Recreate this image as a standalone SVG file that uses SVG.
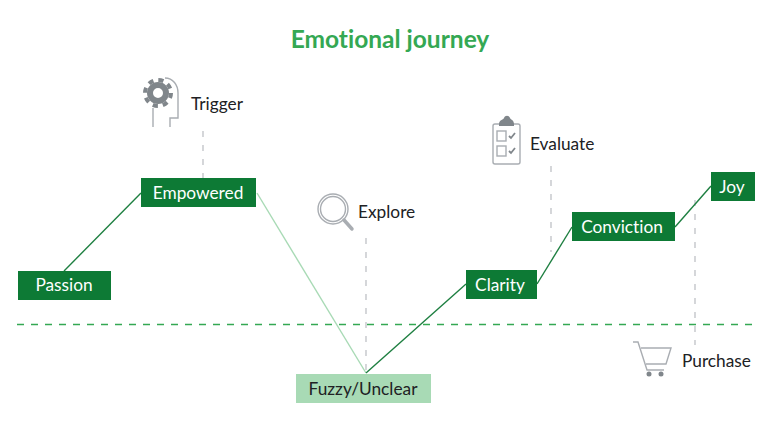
<svg xmlns="http://www.w3.org/2000/svg" width="780" height="433" viewBox="0 0 780 433">
<style>
text{font-family:"Lato","Roboto","Liberation Sans",sans-serif;font-size:17.300px;fill:#202124;font-variant-ligatures:none}
.w{fill:#fff;text-anchor:middle}
.d{fill:#0d7a35}
.c{fill:none;stroke:#1e7f41;stroke-width:1.400}
.g{fill:none;stroke:#c4c6ca;stroke-width:1.400;stroke-dasharray:6 8}
.i{fill:none;stroke:#a9adb2;stroke-width:1.400}
</style>
<rect width="780" height="433" fill="#fff"/>
<text x="390" y="48" text-anchor="middle" style="font-size:24.500px;font-weight:700;fill:#34a853">Emotional journey</text>
<g id="connectors">
<line x1="17" y1="324.500" x2="752" y2="324.500" fill="none" stroke="#34a853" stroke-width="1.600" stroke-dasharray="7 7"/>
<line class="g" x1="203" y1="131" x2="203" y2="178"/>
<line class="g" x1="366" y1="238" x2="366" y2="373"/>
<line class="g" x1="551" y1="166" x2="551" y2="252"/>
<line class="g" x1="695" y1="200" x2="695" y2="345"/>
<line class="c" x1="64" y1="271" x2="141" y2="193"/>
<line x1="257" y1="193" x2="366" y2="373" stroke="#a8dab5" stroke-width="1.400"/>
<line class="c" x1="366" y1="373" x2="466" y2="284"/>
<line class="c" x1="537" y1="284" x2="572" y2="227"/>
<line class="c" x1="675" y1="227" x2="711" y2="186"/>
</g>
<g id="passion"><rect class="d" x="18" y="271" width="93" height="29"/><text class="w" x="64" y="291">Passion</text></g>
<g id="empowered"><rect class="d" x="141" y="178" width="115" height="29"/><text class="w" x="198" y="199">Empowered</text></g>
<g id="fuzzy"><rect x="296" y="374" width="135" height="29" fill="#a8dab5"/><text x="363" y="395" text-anchor="middle">Fuzzy/Unclear</text></g>
<g id="clarity"><rect class="d" x="466" y="270" width="71" height="29"/><text class="w" x="500" y="291">Clarity</text></g>
<g id="conviction"><rect class="d" x="572" y="212" width="103" height="29"/><text class="w" x="622" y="233">Conviction</text></g>
<g id="joy"><rect class="d" x="711" y="172" width="44" height="29"/><text class="w" x="732" y="193">Joy</text></g>
<g id="trigger">
<path class="i" d="M153 127V108M170 127V118H178V93C178 85 173 78 165 78"/>
<circle cx="158" cy="93" r="8" fill="none" stroke="#80868b" stroke-width="6"/>
<circle cx="158" cy="93" r="13" fill="none" stroke="#80868b" stroke-width="4" stroke-dasharray="5.200 5"/>
<text x="191" y="110">Trigger</text>
</g>
<g id="evaluate">
<rect class="i" x="493" y="124" width="27" height="40" rx="2"/>
<path d="M499 124C499 120 503 120 504 118C505 115 509 115 510 118C511 120 514 120 514 124V126H499Z" fill="#80868b"/>
<rect class="i" x="497" y="131" width="9" height="10"/><rect class="i" x="497" y="146" width="9" height="10"/>
<path d="M509 136L511 138L515 133M509 151L511 153L515 148" fill="none" stroke="#80868b" stroke-width="1.800"/>
<text x="530" y="150">Evaluate</text>
</g>
<g id="explore">
<circle class="i" cx="333" cy="209" r="15"/><circle class="i" cx="333" cy="209" r="12.500"/>
<path d="M344 220L352 229" fill="none" stroke="#a9adb2" stroke-width="3.500" stroke-linecap="round"/>
<text x="358" y="218">Explore</text>
</g>
<g id="purchase">
<path class="i" d="M633 342H638L647 370H664M641 348H671L666 364H646"/>
<circle cx="649" cy="374" r="2.500" fill="#80868b"/><circle cx="661" cy="374" r="2.500" fill="#80868b"/>
<text x="682" y="367">Purchase</text>
</g>
</svg>
